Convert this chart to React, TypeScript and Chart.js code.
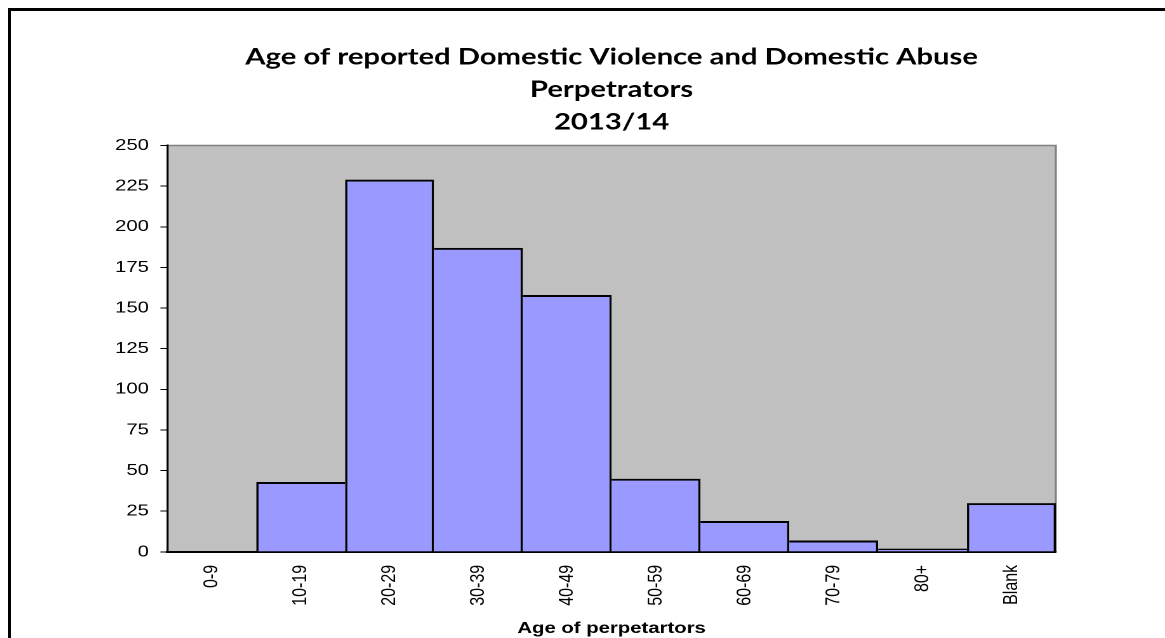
import React, { useEffect, useRef } from "react";
import { Chart, registerables } from "chart.js";

Chart.register(...registerables);

// Chart text and data
const titleLines = [
  "Age of reported Domestic Violence and Domestic Abuse",
  "Perpetrators",
  "2013/14",
];
const ageBands = ["0-9", "10-19", "20-29", "30-39", "40-49", "50-59", "60-69", "70-79", "80+", "Blank"];
const perpetrators = [0, 43, 229, 187, 158, 45, 19, 7, 2, 30];
const xAxisTitle = "Age of perpetartors";
const yMin = 0;
const yMax = 250;
const yStep = 25;

// The chart is drawn on a narrower canvas and widened horizontally.
const CANVAS_W = 909;
const CANVAS_H = 627;
const STRETCH = 1154 / CANVAS_W;

const tickFont = '"Liberation Sans", Arial, sans-serif';

// Grey plot background with a thin grey frame on the top and right sides.
const plotFrame = {
  id: "plotFrame",
  beforeDraw(chart: any) {
    const { ctx, chartArea: a } = chart;
    ctx.save();
    ctx.fillStyle = "#C0C0C0";
    ctx.fillRect(a.left, a.top, a.right - a.left, a.bottom - a.top);
    ctx.strokeStyle = "#808080";
    ctx.lineWidth = 1.6;
    ctx.beginPath();
    ctx.moveTo(a.left, a.top);
    ctx.lineTo(a.right, a.top);
    ctx.lineTo(a.right, a.bottom);
    ctx.stroke();
    ctx.restore();
  },
};

// A shared edge between two touching bars is outlined once, by the taller bar.
function sideWidth(ctx: any, step: number): number {
  const data = ctx.dataset?.data as number[] | undefined;
  const i = ctx.dataIndex;
  if (!data || i === undefined) return 1.8;
  const v = data[i];
  const n = data[i + step];
  if (n === undefined) return 1.8;
  if (v > n || (v === n && step < 0)) return 1.8;
  return 0;
}

export default function App() {
  const canvasRef = useRef<HTMLCanvasElement | null>(null);

  useEffect(() => {
    if (!canvasRef.current) return;
    const chart = new Chart(canvasRef.current, {
      type: "bar",
      data: {
        labels: ageBands,
        datasets: [
          {
            data: perpetrators,
            backgroundColor: "#9999FF",
            borderColor: "#000000",
            borderWidth: (ctx: any) => ({
              top: 2,
              left: sideWidth(ctx, -1),
              right: sideWidth(ctx, 1),
              bottom: 0,
            }),
            inflateAmount: 0,
            barPercentage: 1,
            categoryPercentage: 1,
          } as any,
        ],
      },
      options: {
        responsive: false,
        animation: false,
        devicePixelRatio: 2,
        layout: { padding: { left: 73, right: 86, top: 0, bottom: 0 } },
        plugins: {
          legend: { display: false },
          tooltip: { enabled: false },
          title: {
            display: true,
            text: titleLines,
            fullSize: false,
            color: "#000",
            font: { family: 'Lato, "Open Sans", sans-serif', size: 23, weight: "bold", lineHeight: 1.413 },
            padding: { top: 30, bottom: 7 },
          },
        },
        scales: {
          x: {
            grid: { display: false, drawTicks: false },
            border: { display: true, color: "#000", width: 2 },
            ticks: {
              color: "#000",
              font: { family: tickFont, size: 16 },
              minRotation: 90,
              maxRotation: 90,
              autoSkip: false,
              padding: 13,
            },
            title: {
              display: true,
              text: xAxisTitle,
              color: "#000",
              font: { family: tickFont, size: 16, weight: "bold" },
              padding: { top: 0, bottom: 0 },
            },
          },
          y: {
            min: yMin,
            max: yMax,
            ticks: {
              stepSize: yStep,
              color: "#000",
              font: { family: tickFont, size: 16 },
              padding: 9,
            },
            grid: {
              drawOnChartArea: false,
              drawTicks: true,
              tickLength: 5.5,
              tickColor: "#000",
              tickWidth: 1,
            },
            border: { display: true, color: "#000", width: 1.6 },
          },
        },
      } as any,
      plugins: [plotFrame],
    });
    return () => chart.destroy();
  }, []);

  return (
    <div
      style={{
        position: "fixed",
        left: 8,
        top: 8,
        width: 1157,
        height: 630,
        boxSizing: "border-box",
        borderLeft: "3px solid #000",
        borderTop: "3px solid #000",
        overflow: "hidden",
        background: "#fff",
      }}
    >
      <canvas
        ref={canvasRef}
        width={CANVAS_W}
        height={CANVAS_H}
        style={{ display: "block", transform: `scaleX(${STRETCH})`, transformOrigin: "0 0" }}
      />
    </div>
  );
}
